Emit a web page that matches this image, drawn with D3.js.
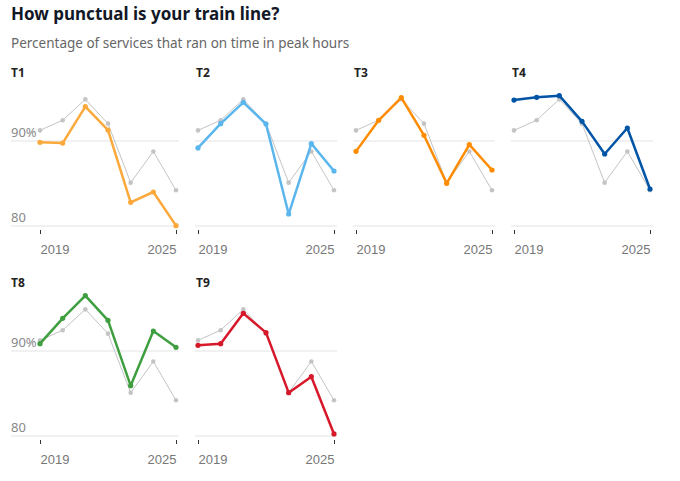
<!DOCTYPE html>
<html>
<head>
<meta charset="utf-8">
<script src="https://cdn.jsdelivr.net/npm/d3@7"></script>
<style>
  body { margin: 0; background: #fff; font-family: "Noto Sans", sans-serif; }
  .title { font-weight: bold; fill: #121826; }
  .sub { fill: #666; }
  .grid { stroke: #e3e3e3; stroke-width: 1; }
  .lbl { fill: #888; font-size: 13px; }
  .yr { fill: #777; font-size: 13px; }
  .ptitle { font-weight: bold; font-size: 12px; fill: #222; }
</style>
</head>
<body>
<script>
// on-time percentage, peak hours
var years = [2019, 2020, 2021, 2022, 2023, 2024, 2025];
var lineNames = ["T1", "T2", "T3", "T4", "T8", "T9"];
var network = [91.25, 92.45, 94.9, 92.04, 85.1, 88.77, 84.2];
var t1 = [89.84, 89.76, 94.04, 91.29, 82.78, 84.0, 80.04];
var t2 = [89.18, 92.04, 94.55, 92.0, 81.41, 89.69, 86.47];
var t3 = [88.78, 92.43, 95.1, 90.67, 85.02, 89.57, 86.59];
var t4 = [94.82, 95.14, 95.33, 92.31, 88.47, 91.53, 84.35];
var t8 = [90.86, 93.84, 96.51, 93.61, 85.92, 92.35, 90.43];
var t9 = [90.67, 90.86, 94.43, 92.16, 85.1, 86.98, 80.24];
var lineValues = [t1, t2, t3, t4, t8, t9];
var lineColors = ["#fba93b", "#5ab6ec", "#ff8c00", "#0054a6", "#3f9e3f", "#d7182a"];
var gridValues = [80, 90];

var width = 680, height = 481;

var svg = d3.select("body").append("svg")
    .attr("width", width)
    .attr("height", height);

svg.append("text").attr("class", "title")
    .attr("x", 11).attr("y", 20)
    .style("font-size", "17px")
    .text("How punctual is your train line?");

svg.append("text").attr("class", "sub")
    .attr("x", 11).attr("y", 48)
    .style("font-size", "13.5px")
    .text("Percentage of services that ran on time in peak hours");

var panelW = 136, pitchX = 158, pitchY = 210;

lineNames.forEach(function(name, i) {
  var col = i % 4, row = Math.floor(i / 4);
  var x0 = 40 + col * pitchX;
  var yOff = row * pitchY;

  var x = d3.scaleLinear().domain([2019, 2025]).range([x0, x0 + panelW]);
  var y = d3.scaleLinear().domain([80, 90]).range([226 + yOff, 141 + yOff]);

  var g = svg.append("g");

  g.append("text").attr("class", "ptitle")
      .attr("x", col == 0 ? 11 : x0 - 2)
      .attr("y", 77 + yOff)
      .text(name);

  // gridlines
  g.selectAll("line.grid")
      .data(gridValues)
    .enter().append("line")
      .attr("class", "grid")
      .attr("x1", col == 0 ? 11 : x0 - 3)
      .attr("x2", x0 + panelW + 3)
      .attr("y1", function(d) { return y(d); })
      .attr("y2", function(d) { return y(d); });

  if (col == 0) {
    g.selectAll("text.lbl")
        .data(gridValues)
      .enter().append("text")
        .attr("class", "lbl")
        .attr("x", 11)
        .attr("y", function(d) { return y(d) - 4; })
        .text(function(d) { return d == 90 ? "90%" : d; });
  }

  // x axis: only first and last year
  var axis = g.append("g")
      .attr("transform", "translate(0," + (y(80) + 4) + ")")
      .call(d3.axisBottom(x).tickValues([2019, 2025]).tickSize(4).tickFormat(d3.format("d")));
  axis.select(".domain").remove();
  axis.selectAll(".tick line").attr("stroke", "#333");
  axis.selectAll(".tick text")
      .attr("class", "yr")
      .attr("y", 15)
      .attr("font-family", null).attr("font-size", null).attr("fill", null)
      .attr("text-anchor", function(d) { return d == 2019 ? "start" : "end"; });

  var line = d3.line()
      .x(function(d, j) { return x(years[j]); })
      .y(function(d) { return y(d); });

  // network average in grey
  g.append("path").datum(network)
      .attr("d", line)
      .attr("fill", "none")
      .attr("stroke", "#c4c4c4")
      .attr("stroke-width", 1);
  g.selectAll("circle.avg")
      .data(network)
    .enter().append("circle")
      .attr("class", "avg")
      .attr("cx", function(d, j) { return x(years[j]); })
      .attr("cy", function(d) { return y(d); })
      .attr("r", 2.3)
      .attr("fill", "#c4c4c4");

  g.append("path").datum(lineValues[i])
      .attr("d", line)
      .attr("fill", "none")
      .attr("stroke", lineColors[i])
      .attr("stroke-width", 2.5)
      .attr("stroke-linejoin", "round");
  g.selectAll("circle.val")
      .data(lineValues[i])
    .enter().append("circle")
      .attr("class", "val")
      .attr("cx", function(d, j) { return x(years[j]); })
      .attr("cy", function(d) { return y(d); })
      .attr("r", 2.6)
      .attr("fill", lineColors[i]);
});
</script>
</body>
</html>
